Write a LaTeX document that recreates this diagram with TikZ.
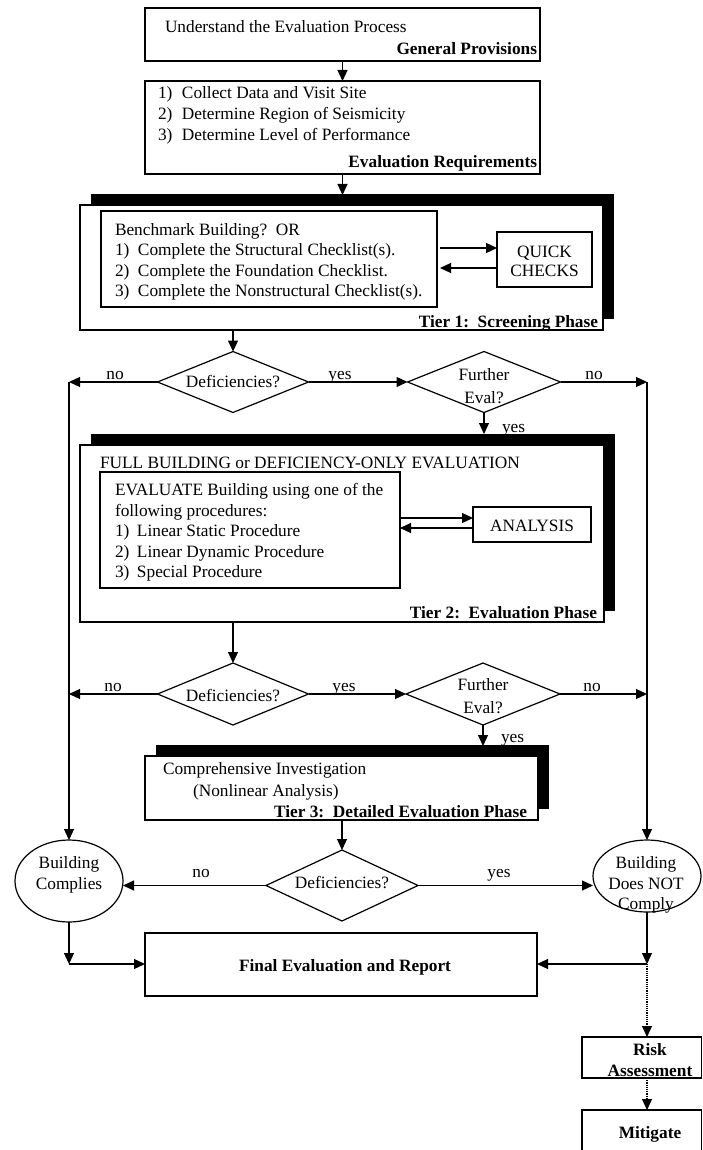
\documentclass[tikz,border=0pt]{standalone}
\usepackage{fontspec}
\setmainfont{Liberation Serif}
\usetikzlibrary{arrows.meta,shapes.geometric,shadows,fit}
\begin{document}
\begin{tikzpicture}[x=1pt,y=-1pt,
  every node/.style={font=\fontsize{17.3}{20.5}\selectfont, inner sep=0pt, outer sep=0pt},
  box/.style={draw, line width=1.2pt, fill=white, inner sep=0pt},
  tierbox/.style={box, drop shadow={shadow xshift=11pt, shadow yshift=11pt, fill=black, opacity=1}},
  dec/.style={draw, line width=1.2pt, diamond, inner sep=0pt},
  oval/.style={draw, line width=1.2pt, ellipse, inner sep=0pt},
  arr/.style={line width=1.2pt, -{Triangle[length=11pt,width=10pt]}},
  dotarr/.style={arr, densely dotted},
  bold/.style={font=\fontsize{17.3}{20.5}\selectfont\bfseries},
  txt/.style={anchor=base west},
  rtxt/.style={anchor=base east, bold},
  ctxt/.style={anchor=base}
]
\useasboundingbox (0,0) rectangle (702,1150);

% ---------- top boxes ----------
\node[box, fit={(145,8) (540,61)}] (b1) {};
\node[txt] (b1t) at (165,32.5) {Understand the Evaluation Process};
\node[rtxt] (b1l) at (537,55) {General Provisions};

\node[box, fit={(145,81) (540,174)}] (b2) {};
\node[txt, font=\fontsize{17.3}{21}\selectfont] (b2t) at (158,99) {\begin{tabular}[t]{@{}l@{}}
\makebox[24pt][l]{1)}Collect Data and Visit Site\\
\makebox[24pt][l]{2)}Determine Region of Seismicity\\
\makebox[24pt][l]{3)}Determine Level of Performance\end{tabular}};
\node[rtxt] (b2l) at (537,167.5) {Evaluation Requirements};

% ---------- Tier 1 ----------
\node[tierbox, fit={(80,205) (603,330)}] (t1) {};
\node[box, fit={(101,211) (437,307)}] (ib1) {};
\node[txt] (ib1t) at (115,235.5) {\begin{tabular}[t]{@{}l@{}}
Benchmark Building?\ \ OR\\
\makebox[23pt][l]{1)}Complete the Structural Checklist(s).\\
\makebox[23pt][l]{2)}Complete the Foundation Checklist.\\
\makebox[23pt][l]{3)}Complete the Nonstructural Checklist(s).\end{tabular}};
\node[box, fit={(497,232) (592,287)}] (qc) {};
\node[align=center, font=\fontsize{17.3}{19}\selectfont] (qct) at (544.5,261) {QUICK\\CHECKS};
\node[rtxt] (t1l) at (598,327.5) {Tier 1:\ \ Screening Phase};
\coordinate (qa1) at (440,248);
\coordinate (qa2) at (440,268);
\draw[arr] (qa1) -- (qa1 -| qc.west);
\draw[arr] (qa2 -| qc.west) -- (qa2);

% ---------- decision row 1 ----------
\node[dec, minimum width=151pt, minimum height=61pt] (d1) at (233,382) {};
\node[ctxt] (d1t) at (233,387.5) {Deficiencies?};
\node[dec, minimum width=153pt, minimum height=61pt] (d2) at (484,382) {};
\node[ctxt] (d2t) at (484,380) {Further};
\node[ctxt] (d2u) at (484,403) {Eval?};
\node[ctxt] (n1) at (115,379) {no};
\node[ctxt] (y1) at (340,379) {yes};
\node[ctxt] (n2) at (594,379) {no};
\node[txt] (y2) at (502,432) {yes};

% ---------- Tier 2 ----------
\node[tierbox, fit={(80,445) (604,622)}] (t2) {};
\node[txt] (t2h) at (100,468.5) {FULL BUILDING or DEFICIENCY-ONLY EVALUATION};
\node[box, fit={(100,472) (400,588)}] (ib2) {};
\node[txt] (ib2t) at (115,495.5) {\begin{tabular}[t]{@{}l@{}}
EVALUATE Building using one of the\\
following procedures:\\
\makebox[22pt][l]{1)}Linear Static Procedure\\
\makebox[22pt][l]{2)}Linear Dynamic Procedure\\
\makebox[22pt][l]{3)}Special Procedure\end{tabular}};
\node[box, fit={(473,507) (591,542)}] (an) {};
\node[ctxt] (ant) at (532,531.5) {ANALYSIS};
\node[rtxt] (t2l) at (597,618.5) {Tier 2:\ \ Evaluation Phase};
\coordinate (aa1) at (400,518);
\coordinate (aa2) at (400,528);
\draw[arr] (aa1) -- (aa1 -| an.west);
\draw[arr] (aa2 -| an.west) -- (aa2);

% ---------- decision row 2 ----------
\node[dec, minimum width=151pt, minimum height=62pt] (d3) at (233,694) {};
\node[ctxt] (d3t) at (233,701) {Deficiencies?};
\node[dec, minimum width=154pt, minimum height=62pt] (d4) at (483,694) {};
\node[ctxt] (d4t) at (483,690.5) {Further};
\node[ctxt] (d4u) at (483,713.5) {Eval?};
\node[ctxt] (n3) at (113,691) {no};
\node[ctxt] (y3) at (344,691) {yes};
\node[ctxt] (n4) at (592,691) {no};
\node[txt] (y4) at (501,742) {yes};

% ---------- Tier 3 ----------
\node[tierbox, fit={(145,756) (538,820)}] (t3) {};
\node[txt] (t3a) at (163,774.5) {Comprehensive Investigation};
\node[txt] (t3b) at (193,796.5) {(Nonlinear Analysis)};
\node[rtxt] (t3l) at (527,817.5) {Tier 3:\ \ Detailed Evaluation Phase};

% ---------- decision row 3 ----------
\node[dec, minimum width=152pt, minimum height=71pt] (d5) at (342,885.5) {};
\node[ctxt] (d5t) at (342,888.5) {Deficiencies?};
\node[ctxt] (n5) at (201,877) {no};
\node[ctxt] (y5) at (499,877) {yes};

\node[oval, minimum width=108pt, minimum height=82pt] (bc) at (69,881) {};
\node[ctxt] (bct) at (69,868.5) {\begin{tabular}[t]{@{}c@{}}Building\\Complies\end{tabular}};
\node[oval, minimum width=108pt, minimum height=72pt] (bn) at (647,876) {};
\node[ctxt] (bnt) at (646,868.5) {\begin{tabular}[t]{@{}c@{}}Building\\Does NOT\\Comply\end{tabular}};

% ---------- final ----------
\node[box, fit={(145,933) (537,996)}] (fe) {};
\node[ctxt, bold] (fet) at (345,971.5) {Final Evaluation and Report};
\node[box, fit={(582,1037) (701.4,1078)}] (ra) {};
\node[ctxt, bold, font=\fontsize{17.3}{21}\selectfont\bfseries] (rat) at (650,1055.5) {\begin{tabular}[t]{@{}c@{}}Risk\\Assessment\end{tabular}};
\node[box, fit={(582,1110) (701.4,1170)}] (mi) {};
\node[ctxt, bold] (mit) at (650,1138.5) {Mitigate};

% ---------- coordinates ----------
\coordinate (s1) at (342.5,195);
\coordinate (s2) at (484,434);
\coordinate (s3) at (483,746);
\coordinate (L1) at (69,382);
\coordinate (R1) at (647,382);
\coordinate (L2) at (69,694);
\coordinate (R2) at (647,694);
\coordinate (Lb) at (69,964);
\coordinate (Rb) at (647,964);

% ---------- connectors ----------
\draw[arr] (b1.south) -- (b2.north);
\draw[arr] (b2.south) -- (s1);
\draw[arr] (t1.south -| d1) -- (d1.north);
\draw[arr] (d1.west) -- (L1);
\draw[arr] (d1.east) -- (d2.west);
\draw[arr] (d2.east) -- (R1);
\draw[arr] (d2.south) -- (s2);
\draw[arr] (L1) -- (bc.north);
\draw[arr] (R1) -- (bn.north);

\draw[arr] (t2.south -| d3) -- (d3.north);
\draw[arr] (d3.west) -- (L2);
\draw[arr] (d3.east) -- (d4.west);
\draw[arr] (d4.east) -- (R2);
\draw[arr] (d4.south) -- (s3);

\draw[arr] (t3.south -| d5) -- (d5.north);
\draw[arr] (d5.west) -- (d5.west -| bc.east);
\draw[arr] (d5.east) -- (d5.east -| bn.west);

\draw[arr] (bc.south) -- (Lb);
\draw[arr] (Lb) -- (Lb -| fe.west);
\draw[arr] (bn.south) -- (Rb);
\draw[arr] (Rb) -- (Rb -| fe.east);
\draw[dotarr] (Rb) -- (Rb |- ra.north);
\draw[dotarr] (ra.south -| Rb) -- (Rb |- mi.north);
\end{tikzpicture}
\end{document}
